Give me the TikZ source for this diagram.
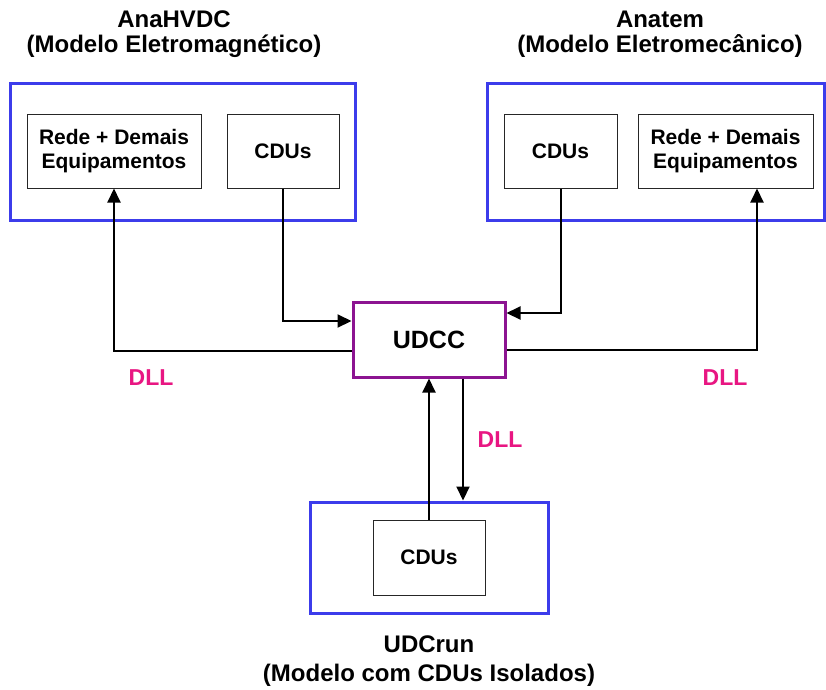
\documentclass[tikz,border=0pt]{standalone}
\usepackage{fontspec}
\setmainfont{Liberation Sans}
\usetikzlibrary{arrows.meta}
\definecolor{boxblue}{RGB}{60,60,235}
\definecolor{udccpurple}{RGB}{140,20,145}
\definecolor{dllpink}{RGB}{232,22,130}
\tikzset{
  outerbox/.style={draw=boxblue, line width=3pt, minimum width=#1, inner sep=0pt},
  innerbox/.style={draw=black!85, line width=1pt, inner sep=0pt, align=center,
    font=\fontsize{21}{24}\selectfont\bfseries},
  udccbox/.style={draw=udccpurple, line width=3pt, inner sep=0pt,
    font=\fontsize{25}{28}\selectfont\bfseries},
  title/.style={anchor=base, inner sep=0pt, font=\fontsize{24}{27}\selectfont\bfseries},
  dll/.style={anchor=base, inner sep=0pt, text=dllpink, font=\fontsize{23}{26}\selectfont\bfseries},
  conn/.style={line width=2pt, draw=black},
  arr/.style={conn, -{Triangle[length=14pt,width=13pt]}},
}
\begin{document}
\begin{tikzpicture}[x=1pt,y=-1pt]
\useasboundingbox (0,0) rectangle (826,689);
% titles
\node[title] (t1a) at (174,27) {AnaHVDC};
\node[title] (t1b) at (174,52) {(Modelo Eletromagnético)};
\node[title] (t2a) at (660,27) {Anatem};
\node[title] (t2b) at (660,52) {(Modelo Eletromecânico)};
\node[title] (t3a) at (429,652) {UDCrun};
\node[title] (t3b) at (429,681) {(Modelo com CDUs Isolados)};
% outer boxes
\node[outerbox=345pt, minimum height=137pt] (lbox) at (182.5,151.5) {};
\node[outerbox=337pt, minimum height=137pt] (rbox) at (655.5,151.5) {};
\node[outerbox=238pt, minimum height=111pt] (bbox) at (429,557.5) {};
% inner boxes
\node[innerbox, minimum width=174pt, minimum height=74pt] (lrede) at (114,151) {Rede + Demais\\Equipamentos};
\node[innerbox, minimum width=112pt, minimum height=74pt] (lcdu) at (283,151) {CDUs};
\node[innerbox, minimum width=113pt, minimum height=74pt] (rcdu) at (560.5,151) {CDUs};
\node[innerbox, minimum width=175pt, minimum height=74pt] (rrede) at (725.5,151) {Rede + Demais\\Equipamentos};
\node[innerbox, minimum width=112pt, minimum height=75pt] (bcdu) at (429,557.5) {CDUs};
% UDCC
\node[udccbox, minimum width=152pt, minimum height=75pt] (udcc) at (429,339.5) {UDCC};
% connectors
\draw[arr] (lcdu.south) |- ([yshift=18.5pt]udcc.west);
\draw[arr] ([yshift=-11.5pt]udcc.west) -| (lrede.south);
\draw[arr] (rcdu.south) |- ([yshift=26.5pt]udcc.east);
\draw[arr] ([yshift=-10.5pt]udcc.east) -| ([xshift=31.5pt]rrede.south);
\draw[arr] (bcdu.north) -- (udcc.south);
\draw[arr] ([xshift=34pt]udcc.south) -- ([xshift=34pt]bbox.north);
% labels
\node[dll] (dll1) at (151,385) {DLL};
\node[dll] (dll2) at (725,385) {DLL};
\node[dll] (dll3) at (500,447) {DLL};
\end{tikzpicture}
\end{document}
